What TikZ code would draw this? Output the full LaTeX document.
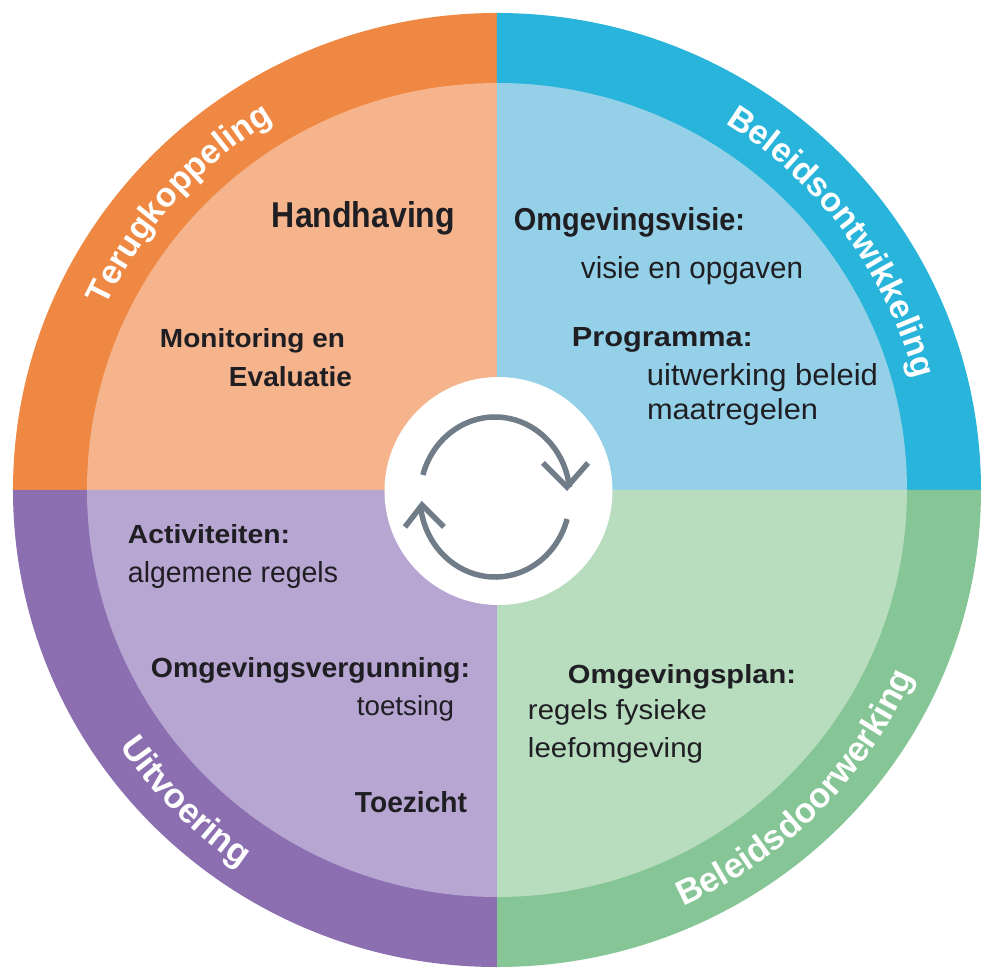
\documentclass[tikz,border=0pt]{standalone}
\usepackage{fontspec}
\setmainfont{Liberation Sans}
\usepackage{graphicx}
\usetikzlibrary{decorations.text}
\definecolor{orO}{RGB}{238,136,66}
\definecolor{orI}{RGB}{245,180,140}
\definecolor{blO}{RGB}{41,181,219}
\definecolor{blI}{RGB}{148,209,232}
\definecolor{puO}{RGB}{139,111,176}
\definecolor{puI}{RGB}{183,165,210}
\definecolor{grO}{RGB}{133,197,150}
\definecolor{grI}{RGB}{183,220,190}
\definecolor{txtc}{RGB}{30,30,35}
\definecolor{iconc}{RGB}{112,125,136}
\newcommand\fitn[3]{\resizebox{#1bp}{#2bp}{#3}}
\newcommand\fitb[3]{\resizebox{#1bp}{#2bp}{\bfseries #3}}
\newcommand\arcA{\fontsize{34}{34}\selectfont\bfseries}
\newcommand\arcB{\fontsize{35}{35}\selectfont\bfseries}
\begin{document}
\begin{tikzpicture}[x=1bp,y=1bp,
  lbl/.style={anchor=base west, inner sep=0pt, outer sep=0pt, text=txtc},
  ringtext/.style={decorate, decoration={text along path, text align=center, text color=white, text={#1}}},
  iconline/.style={draw=iconc, line width=5.5bp, line cap=butt, line join=miter}]
\useasboundingbox (-497,-479) rectangle (485,490);
\fill[white] (-497,-479) rectangle (485,490);
% outer ring sectors
\fill[orO] (0,0) -- (-484,0) arc[start angle=180, end angle=90, x radius=484, y radius=477] -- cycle;
\fill[blO] (0,0) -- (0,477) arc[start angle=90, end angle=0, x radius=484, y radius=477] -- cycle;
\fill[grO] (0,0) -- (484,0) arc[start angle=0, end angle=-90, x radius=484, y radius=477] -- cycle;
\fill[puO] (0,0) -- (0,-477) arc[start angle=270, end angle=180, x radius=484, y radius=477] -- cycle;
% inner sectors
\fill[orI] (0,0) -- (-410,0) arc[start angle=180, end angle=90, x radius=410, y radius=407] -- cycle;
\fill[blI] (0,0) -- (0,407) arc[start angle=90, end angle=0, x radius=410, y radius=407] -- cycle;
\fill[grI] (0,0) -- (410,0) arc[start angle=0, end angle=-90, x radius=410, y radius=407] -- cycle;
\fill[puI] (0,0) -- (0,-407) arc[start angle=270, end angle=180, x radius=410, y radius=407] -- cycle;
% hub
\node[circle, fill=white, minimum size=228bp, inner sep=0pt] (hub) at (1.5,-1) {};
% cycle icon
\draw[iconline] (-2,-7) ++(164:75 and 80) arc[start angle=164, end angle=7, x radius=75, y radius=80];
\draw[iconline] (46,27) -- (70,3) -- (91,27);
\draw[iconline] (-2,-7) ++(-16:75 and 80) arc[start angle=-16, end angle=-174, x radius=75, y radius=80];
\draw[iconline] (-92,-37) -- (-75,-15) -- (-53,-37);
% ring labels
\path[ringtext={|\arcA|Terugkoppeling}] (165:432) arc[start angle=165, end angle=111, radius=432];
\path[ringtext={|\arcA|Beleidsontwikkeling}] (64:432) arc[start angle=64, end angle=9, radius=432];
\path[ringtext={|\arcB|Beleidsdoorwerking}] (-72:456) arc[start angle=-72, end angle=-18, radius=456];
\path[ringtext={|\arcB|Uitvoering}] (198:456) arc[start angle=198, end angle=252, radius=456];
% orange quadrant
\node[lbl] (hand) at (-225,262) {\fitb{183}{26}{Handhaving}};
\node[lbl] (moni) at (-337,142) {\fitb{185}{19}{Monitoring en}};
\node[lbl] (eval) at (-268,103) {\fitb{123}{20}{Evaluatie}};
% blue quadrant
\node[lbl] (ovis) at (17,259) {\fitb{231}{23}{Omgevingsvisie:}};
\node[lbl] (ovisd) at (84,211) {\fitn{222}{22}{visie en opgaven}};
\node[lbl] (prog) at (75,143) {\fitb{181}{19}{Programma:}};
\node[lbl] (progd1) at (150,104) {\fitn{231}{22}{uitwerking beleid}};
\node[lbl] (progd2) at (150,70) {\fitn{171}{21}{maatregelen}};
% purple quadrant
\node[lbl] (act) at (-369,-53) {\fitb{162}{19}{Activiteiten:}};
\node[lbl] (actd) at (-369,-93) {\fitn{210}{21}{algemene regels}};
\node[lbl] (ovg) at (-346,-187) {\fitb{319}{20}{Omgevingsvergunning:}};
\node[lbl] (ovgd) at (-140,-225) {\fitn{97}{20}{toetsing}};
\node[lbl] (toez) at (-142,-322) {\fitb{112}{21}{Toezicht}};
% green quadrant
\node[lbl] (oplan) at (71,-193) {\fitb{228}{19}{Omgevingsplan:}};
\node[lbl] (oplan1) at (31,-229) {\fitn{179}{20}{regels fysieke}};
\node[lbl] (oplan2) at (31,-267) {\fitn{175}{20}{leefomgeving}};
\end{tikzpicture}
\end{document}
